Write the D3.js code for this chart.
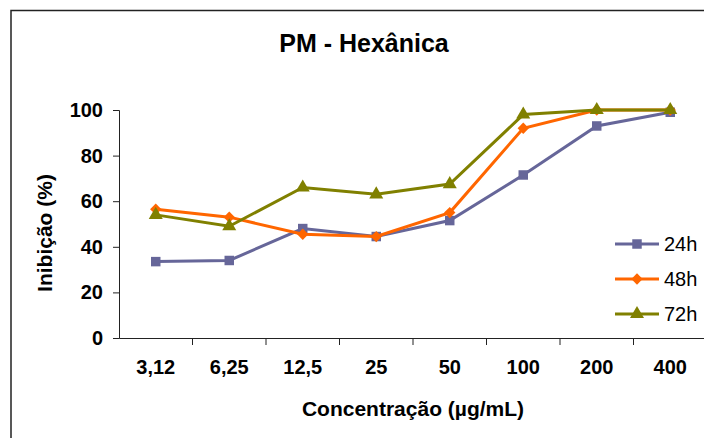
<!DOCTYPE html>
<html>
<head>
<meta charset="utf-8">
<script src="https://cdn.jsdelivr.net/npm/d3@7"></script>
<style>
  body { margin: 0; background: #fff; }
  svg { display: block; font-family: "Liberation Sans", Arial, sans-serif; }
</style>
</head>
<body>
<script>
// chart data
var categories = ['3,12', '6,25', '12,5', '25', '50', '100', '200', '400'];
var seriesNames = ['24h', '48h', '72h'];
var values24 = [33.5, 34, 48, 44.5, 51.5, 71.5, 93, 99];
var values48 = [56.5, 53, 45.5, 44.5, 55, 92, 100, 100];
var values72 = [54, 49, 66, 63, 67.5, 98, 100, 100];
var yTicks = [0, 20, 40, 60, 80, 100];

var colors = ['#666699', '#ff6600', '#808000'];
// squares, diamonds (rotated squares) and triangles like the Excel markers
var symbols = [d3.symbolSquare, d3.symbolSquare, d3.symbolTriangle];
var symbolRotate = [0, 45, 0];
var symbolSizes = [90, 64, 85];

var width = 704;
var height = 438;

var svg = d3.select('body')
  .append('svg')
  .attr('width', width)
  .attr('height', height);

// outer frame (cropped on the right and bottom)
svg.append('rect')
  .attr('x', 11)
  .attr('y', 10.5)
  .attr('width', 720)
  .attr('height', 460)
  .attr('fill', 'none')
  .attr('stroke', '#222')
  .attr('stroke-width', 1.5);

var x = d3.scaleBand()
  .domain(categories)
  .range([119, 707])
  .padding(0);

var y = d3.scaleLinear()
  .domain([0, 100])
  .range([338, 110]);

// title
svg.append('text')
  .attr('x', 364)
  .attr('y', 52)
  .attr('text-anchor', 'middle')
  .style('font-size', '25px')
  .style('font-weight', 'bold')
  .text('PM - Hexânica');

// y axis
var yAxis = svg.append('g')
  .attr('transform', 'translate(119,0)')
  .call(d3.axisLeft(y).tickValues(yTicks).tickSize(6).tickPadding(10));
yAxis.selectAll('text')
  .style('font-size', '20px')
  .style('font-weight', 'bold')
  .attr('fill', '#000');
yAxis.selectAll('line, path').attr('stroke', '#222');

// x axis: labels at band centers, ticks at band boundaries
var xAxis = svg.append('g')
  .attr('transform', 'translate(0,338)')
  .call(d3.axisBottom(x).tickSize(0).tickPadding(22));
xAxis.select('.domain').attr('stroke', '#222');
xAxis.selectAll('text')
  .style('font-size', '20px')
  .style('font-weight', 'bold')
  .attr('fill', '#000');

xAxis.selectAll('line.bound')
  .data(categories.slice(1))
  .enter()
  .append('line')
  .attr('class', 'bound')
  .attr('x1', function(d) { return x(d); })
  .attr('x2', function(d) { return x(d); })
  .attr('y1', 0)
  .attr('y2', 7)
  .attr('stroke', '#222');

// axis titles
svg.append('text')
  .attr('x', 413)
  .attr('y', 416)
  .attr('text-anchor', 'middle')
  .style('font-size', '21px')
  .style('font-weight', 'bold')
  .text('Concentração (µg/mL)');

svg.append('text')
  .attr('transform', 'translate(52,233) rotate(-90)')
  .attr('text-anchor', 'middle')
  .style('font-size', '21px')
  .style('font-weight', 'bold')
  .text('Inibição (%)');

// series
var series = [values24, values48, values72].map(function(vals, i) {
  return {
    name: seriesNames[i],
    color: colors[i],
    symbol: symbols[i],
    rotate: symbolRotate[i],
    size: symbolSizes[i],
    points: vals.map(function(v, j) { return {cat: categories[j], value: v}; })
  };
});

var line = d3.line()
  .x(function(d) { return x(d.cat) + x.bandwidth() / 2; })
  .y(function(d) { return y(d.value); });

series.forEach(function(s) {
  var g = svg.append('g');
  g.append('path')
    .datum(s.points)
    .attr('d', line)
    .attr('fill', 'none')
    .attr('stroke', s.color)
    .attr('stroke-width', 3);
  g.selectAll('path.marker')
    .data(s.points)
    .enter()
    .append('path')
    .attr('class', 'marker')
    .attr('transform', function(d) {
      return 'translate(' + (x(d.cat) + x.bandwidth() / 2) + ',' + y(d.value) + ') rotate(' + s.rotate + ')';
    })
    .attr('d', d3.symbol().type(s.symbol).size(s.size))
    .attr('fill', s.color);
});

// legend
var legend = svg.append('g');
series.forEach(function(s, i) {
  var row = legend.append('g')
    .attr('transform', 'translate(615,' + (244 + i * 35) + ')');
  row.append('line')
    .attr('x1', 0)
    .attr('x2', 44)
    .attr('stroke', s.color)
    .attr('stroke-width', 3);
  row.append('path')
    .attr('transform', 'translate(22,0) rotate(' + s.rotate + ')')
    .attr('d', d3.symbol().type(s.symbol).size(s.size))
    .attr('fill', s.color);
  row.append('text')
    .attr('x', 49)
    .attr('y', 7)
    .style('font-size', '20px')
    .text(s.name);
});
</script>
</body>
</html>
